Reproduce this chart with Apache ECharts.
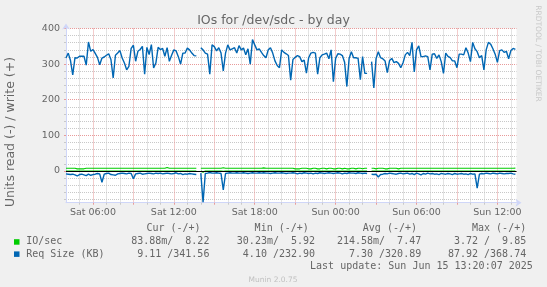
<!DOCTYPE html>
<html><head><meta charset="utf-8">
<script src="https://cdn.jsdelivr.net/npm/echarts@6/dist/echarts.min.js"></script>
<style>html,body{margin:0;padding:0;background:#F0F0F0;}#c{width:547px;height:287px;}</style>
</head><body><div id="c"></div>
<script>
// time axis: hours since Sat 00:00, samples every 10 minutes from Sat 04:00
const startHour = 4;
const stepHours = 1 / 6;
const endHour = 37 + 25 / 60;

// Req Size (KB), write (+)
const writeReqSize = [
 317,331,310,270,318,317,322,322,322,297,
 362,336,341,330,319,298,317,320,325,329,
 313,261,325,331,338,317,303,284,294,344,
 353,308,336,341,350,272,347,327,355,289,
 303,347,341,344,322,346,308,325,340,337,
 321,300,331,331,345,340,331,324,323,null,
 346,340,331,328,272,354,349,337,346,331,
 281,331,354,340,343,346,331,352,340,345,
 326,343,300,368.74,354,340,343,333,324,318,
 340,346,331,309,296,290,340,333,329,324,
 255,313,319,324,321,307,311,275,318,331,
 333,331,272,318,326,328,331,315,340,251,
 316,329,328,324,305,237,316,335,318,318,
 316,256,321,274,274,null,307,232.9,316,335,
 318,315,309,276,310,316,304,307,302,290,
 304,326,333,324,361,278,340,351,321,321,
 323,321,284,328,329,316,326,307,274,331,
 322,318,309,309,290,328,328,326,346,331,
 307,361,343,335,318,324,284,340,361,356,
 343,328,305,338,340,333,336,315,338,344,
 341.56
];
// Req Size (KB), read (-)
const readReqSize = [
 8,9,10,9,11,14,10,9,11,13,
 9,12,10,9,7,8,32,9,7,6,
 10,11,12,8,7,6,7,8,6,7,
 22,8,7,6,9,8,7,6,7,8,
 6,7,6,8,7,6,7,8,7,5,
 8,7,10,8,9,7,8,9,10,null,
 6,87.92,7,6,4.1,6,6,5,6,7,
 53,7,6,5,6,6,5,6,6,5,
 6,7,6,5,6,6,5,6,5,6,
 6,7,6,5,6,6,5,6,7,6,
 6,5,6,8,6,7,5,6,7,6,
 8,6,7,5,6,7,6,5,6,7,
 6,5,6,8,6,7,5,6,6,7,
 5,6,7,6,7,null,9,10,9,17,
 10,9,7,8,6,7,8,9,7,6,
 8,7,6,9,7,10,6,8,11,7,
 9,6,8,7,9,8,10,7,8,9,
 7,8,10,7,9,8,7,9,8,10,
 7,9,8,48,9,7,8,6,7,8,
 6,7,8,6,7,8,7,7,6,8,
 9.11
];
// IO/sec, write (+)
const writeIOs = [
 7.7,7.7,7.7,7.7,7.7,6.1,5.92,6.2,6.2,7.7,
 7.7,7.7,7.7,7.7,7.7,7.7,7.7,7.7,7.7,7.7,
 7.7,7.7,7.7,7.7,7.7,7.7,7.7,7.7,7.7,7.7,
 7.7,7.7,7.7,7.7,7.7,7.7,7.7,7.7,7.7,7.7,
 7.7,7.7,7.7,7.7,7.7,9.85,7.7,7.7,7.7,7.7,
 7.7,7.7,7.7,7.7,7.7,7.7,7.7,7.7,7.7,null,
 7.7,7.7,7.7,7.7,7.7,7.7,7.7,7.7,7.7,7.7,
 9.2,7.7,7.7,7.7,7.7,7.7,7.7,7.7,7.7,7.7,
 7.7,7.7,7.7,7.7,7.7,7.7,7.7,7.7,9.0,7.7,
 7.7,7.7,7.7,7.7,7.7,7.7,7.7,7.7,7.7,7.7,
 7.7,7.7,6.1,6.0,6.2,7.7,7.7,7.7,6.2,6.1,
 7.7,7.7,6.0,6.2,7.7,7.7,6.1,7.7,7.7,6.2,
 6.0,7.7,7.7,6.1,7.7,6.2,6.1,7.7,7.7,6.0,
 7.7,7.7,6.2,7.7,7.7,null,7.7,7.7,6.1,7.7,
 7.7,7.7,6.2,6.1,7.7,7.7,7.7,7.7,6.0,7.7,
 7.7,7.7,7.7,7.7,7.7,7.7,7.7,7.7,7.7,7.7,
 7.7,7.7,7.7,7.7,7.7,7.7,7.7,7.7,7.7,7.7,
 7.7,7.7,7.7,7.7,7.7,7.7,7.7,7.7,7.7,7.7,
 7.7,7.7,7.7,7.7,7.7,7.7,7.7,7.7,7.7,7.7,
 7.7,7.7,7.7,7.7,7.7,7.7,7.7,7.7,7.7,7.7,
 8.22
];
// IO/sec, read (-)
const readIOs = [
 0.2,0.1,0.3,0.2,0.2,0.1,0.2,0.3,0.1,0.2,
 0.2,0.1,0.2,0.3,0.2,0.1,0.5,0.2,0.1,0.2,
 0.3,0.2,0.1,0.2,0.2,0.1,0.2,0.3,0.1,0.2,
 0.4,0.2,0.1,0.2,0.3,0.2,0.1,0.2,0.2,0.1,
 0.2,0.3,0.1,0.2,0.2,0.1,0.2,0.3,0.2,0.2,
 0.1,0.2,0.3,0.2,0.1,0.2,0.2,0.1,0.2,null,
 0.2,3.72,0.2,0.1,0.2,0.3,0.2,0.1,0.2,0.2,
 0.9,0.2,0.1,0.2,0.3,0.1,0.2,0.2,0.1,0.2,
 0.3,0.2,0.1,0.2,0.2,0.1,0.2,0.3,0.1,0.2,
 0.2,0.1,0.2,0.3,0.2,0.1,0.2,0.2,0.1,0.2,
 0.3,0.2,0.1,0.2,0.2,0.1,0.2,0.3,0.1,0.2,
 0.2,0.1,0.2,0.3,0.2,0.1,0.2,0.2,0.1,0.2,
 0.3,0.2,0.1,0.2,0.2,0.1,0.2,0.3,0.1,0.2,
 0.2,0.1,0.2,0.3,0.2,null,0.2,0.2,0.1,0.3,
 0.2,0.1,0.2,0.3,0.2,0.1,0.2,0.2,0.1,0.2,
 0.3,0.2,0.1,0.2,0.2,0.1,0.2,0.3,0.1,0.2,
 0.2,0.1,0.2,0.3,0.2,0.1,0.2,0.2,0.1,0.2,
 0.3,0.2,0.1,0.2,0.2,0.1,0.2,0.3,0.1,0.2,
 0.2,0.1,0.2,0.6,0.2,0.1,0.2,0.2,0.1,0.2,
 0.3,0.2,0.1,0.2,0.2,0.1,0.1,0.1,0.1,0.1,
 0.08388
];

const yMinorTicks = [-80,-60,-40,-20,20,40,60,80,120,140,160,180,220,240,260,280,320,340,360,380];
const yMajorTicks = [0,100,200,300,400];
const xHourTicks = [5,7,8,10,11,13,14,16,17,19,20,22,23,25,26,28,29,31,32,34,35,37];
const x3hTicks = [6,9,12,15,18,21,24,27,30,33,36];
const xLabelTicks = [6,12,18,24,30,36];

const legendHeaders = ['Cur (-/+)','Min (-/+)','Avg (-/+)','Max (-/+)'];
const ioStats = ['83.88m/  8.22','30.23m/  5.92','214.58m/  7.47','3.72 /  9.85'];
const reqStats = ['9.11 /341.56','4.10 /232.90','7.30 /320.89','87.92 /368.74'];
const seriesNames = ['IO/sec','Req Size (KB)'];
const lastUpdate = 'Last update: Sun Jun 15 13:20:07 2025';

const GREEN = '#00CC00', BLUE = '#0066B3', FONT = '#666666';
const GRID = '#c8c8c8', MGRID = '#E89A9A', AXIS = '#CFD6F8';

function toPairs(arr, sign) {
  return arr.map((v, i) => [startHour + i * stepHours, v == null ? null : sign * v]);
}
function fmtHour(h) {
  const d = h < 24 ? 'Sat' : 'Sun';
  const hh = h % 24;
  return d + ' ' + (hh < 10 ? '0' : '') + hh + ':00';
}

const chart = echarts.init(document.getElementById('c'), null, {renderer: 'canvas'});

const colRight = [209.4, 315.1, 421.2, 526.2];
const hdrRight = [200.6, 308.8, 417, 526.2];
const mono = '10px "DejaVu Sans Mono"';
const T = (x, y, text, font, fill, align, extra) => Object.assign({type:'text', x, y,
  style:{text, font, fill, align, verticalAlign:'middle', textAlign:align, textVerticalAlign:'middle'}}, extra || {});
const graphics = [
  T(273.5, 21, 'IOs for /dev/sdc - by day', '12.5px "DejaVu Sans"', FONT, 'center'),
  T(11, 132, 'Units read (-) / write (+)', '12.5px "DejaVu Sans"', FONT, 'center', {rotation:Math.PI/2}),
  T(537.5, 53.5, 'RRDTOOL / TOBI OETIKER', '7.5px "DejaVu Sans"', '#c8c8c8', 'center', {rotation:-Math.PI/2}),
  T(273, 279.6, 'Munin 2.0.75', '7.5px "DejaVu Sans"', '#c0c0c0', 'center'),
  T(532.8, 266.3, lastUpdate, mono, FONT, 'right'),
  {type:'rect', shape:{x:14, y:239.2, width:5.5, height:5.5}, style:{fill:GREEN}},
  {type:'rect', shape:{x:14, y:251.4, width:5.5, height:5.5}, style:{fill:BLUE}},
  T(26.2, 241.9, seriesNames[0], mono, FONT, 'left'),
  T(26.2, 254.1, seriesNames[1], mono, FONT, 'left')
];
legendHeaders.forEach((t, k) => graphics.push(T(hdrRight[k], 228.6, t, mono, FONT, 'right')));
ioStats.forEach((t, k) => graphics.push(T(colRight[k], 241.9, t, mono, FONT, 'right')));
reqStats.forEach((t, k) => graphics.push(T(colRight[k], 254.1, t, mono, FONT, 'right')));

const lineSeries = (data, color, width) => ({
  type:'line', data, xAxisIndex:0, yAxisIndex:0, showSymbol:false, symbol:'none',
  connectNulls:false, animation:false, silent:true,
  lineStyle:{color, width}
});

const option = {
  animation:false,
  backgroundColor:'#F0F0F0',
  grid:{left:66, right:30.5, top:28.5, bottom:84.3, show:true, backgroundColor:'#FFFFFF', borderWidth:0, containLabel:false, outerBoundsMode:'none'},
  xAxis:[
    {type:'value', min:startHour, max:endHour, position:'bottom',
     axisLine:{show:true, onZero:false, lineStyle:{color:AXIS, width:1}, symbol:['none','arrow'], symbolSize:[6,6], symbolOffset:[0,5]},
     axisTick:{show:true, length:2, customValues:xHourTicks, lineStyle:{color:GRID}},
     axisLabel:{show:false},
     splitLine:{show:true, lineStyle:{color:GRID, type:'dotted', width:1}}},
    {type:'value', min:startHour, max:endHour, position:'bottom',
     axisLine:{show:false, onZero:false},
     axisTick:{show:true, length:2, customValues:x3hTicks, lineStyle:{color:MGRID}},
     axisLabel:{show:true, customValues:xLabelTicks, formatter:fmtHour, color:FONT, fontSize:9.5, fontFamily:'DejaVu Sans', margin:5},
     splitLine:{show:true, lineStyle:{color:MGRID, type:'dotted', width:1}}}
  ],
  yAxis:[
    {type:'value', min:-89, max:400, position:'left',
     axisLine:{show:true, onZero:false, lineStyle:{color:AXIS, width:1}, symbol:['none','arrow'], symbolSize:[6,6], symbolOffset:[0,5]},
     axisTick:{show:true, length:2, customValues:yMinorTicks, lineStyle:{color:GRID}},
     axisLabel:{show:false},
     splitLine:{show:true, lineStyle:{color:GRID, type:'dotted', width:1}}},
    {type:'value', min:-89, max:400, position:'left',
     axisLine:{show:false, onZero:false},
     axisTick:{show:true, length:2, customValues:yMajorTicks, lineStyle:{color:MGRID}},
     axisLabel:{show:true, customValues:yMajorTicks, color:FONT, fontSize:9.5, fontFamily:'DejaVu Sans', margin:6},
     splitLine:{show:true, lineStyle:{color:MGRID, type:'dotted', width:1}}}
  ],
  series:[
    lineSeries(toPairs(readIOs, -1), GREEN, 1.2),
    lineSeries(toPairs(writeIOs, 1), GREEN, 1.2),
    lineSeries(toPairs(readReqSize, -1), BLUE, 1.4),
    Object.assign(lineSeries(toPairs(writeReqSize, 1), BLUE, 1.4), {
      markLine:{silent:true, symbol:'none', animation:false, label:{show:false},
        lineStyle:{color:'#000000', width:1, type:'solid'}, data:[{yAxis:0}]}
    })
  ],
  graphic:graphics
};
chart.setOption(option);
</script></body></html>
